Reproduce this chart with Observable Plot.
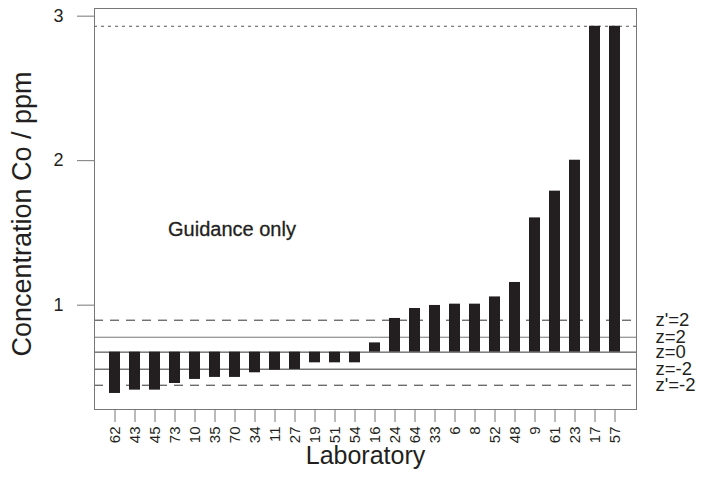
<!DOCTYPE html>
<html>
<head>
<meta charset="utf-8">
<script src="https://cdn.jsdelivr.net/npm/d3@7"></script>
<script src="https://cdn.jsdelivr.net/npm/@observablehq/plot@0.6"></script>
<style>
  html, body { margin: 0; padding: 0; background: #fff; }
</style>
</head>
<body>
<div id="chart"></div>
<script>
// Laboratory codes (x categories), in plotted order
const labs = ["62","43","45","73","10","35","70","34","11","27","19","51","54","16","24","64","33","6","8","52","48","9","61","23","17","57"];
// Reported Co concentrations (ppm)
const values = [0.389,0.412,0.412,0.458,0.486,0.500,0.500,0.532,0.550,0.555,0.601,0.601,0.601,0.739,0.908,0.977,0.998,1.007,1.007,1.057,1.157,1.604,1.789,2.003,2.93,2.93];
// Assigned value (z=0) — bars start here
const assigned = 0.675;
// Reference lines
const zNames = ["z'=2","z=2","z=0","z=-2","z'=-2"];
const zValues = [0.896, 0.778, 0.675, 0.557, 0.446];
const zKinds = ["dash","solidLight","solid","solid","dash"];
// Upper plotting limit (dotted)
const upperLimit = 2.93;
// y ticks
const yTicks = [1, 2, 3];
// annotation
const note = [{lab: "70", v: 1.52, text: "Guidance only"}];

const data = labs.map((l, i) => ({lab: l, v: values[i]}));
const zLines = zNames.map((n, i) => ({name: n, v: zValues[i], kind: zKinds[i]}));

const ink = "#231f20";
const chart = Plot.plot({
  width: 703,
  height: 482,
  marginLeft: 94,
  marginRight: 67,
  marginTop: 8,
  marginBottom: 73,
  style: {fontFamily: "'Liberation Sans', Arial, sans-serif", color: ink, background: "#fff"},
  x: {domain: labs, paddingInner: 0.44, paddingOuter: 0.63},
  y: {domain: [0.278, 3.053]},
  marks: [
    Plot.ruleY(zLines.filter(d => d.kind === "dash"), {y: "v", stroke: "#333", strokeDasharray: "9,7"}),
    Plot.ruleY(zLines.filter(d => d.kind === "solidLight"), {y: "v", stroke: "#777"}),
    Plot.ruleY(zLines.filter(d => d.kind === "solid"), {y: "v", stroke: "#333"}),
    Plot.ruleY([upperLimit], {stroke: "#555", strokeDasharray: "3,4"}),
    Plot.barY(data, {x: "lab", y1: () => assigned, y2: "v", fill: ink}),
    Plot.frame({stroke: "#777"}),
    Plot.axisY({ticks: yTicks, tickSize: 17, tickPadding: 14, fontSize: 18, label: null, stroke: "#777", fill: ink, tickFormat: d => d}),
    Plot.axisX({tickRotate: -90, tickSize: 13, tickPadding: 4, fontSize: 15, label: null, stroke: "#777", fill: ink}),
    Plot.text(note, {x: "lab", y: "v", text: "text", fontSize: 20, dx: -3, fill: ink, stroke: ink, strokeWidth: 0.3}),
    Plot.text(zLines, {y: "v", text: "name", frameAnchor: "right", textAnchor: "start", dx: 19, fontSize: 18.5, fill: ink}),
    Plot.text(["Concentration Co / ppm"], {frameAnchor: "left", textAnchor: "middle", rotate: -90, dx: -72, dy: 5, fontSize: 27, fill: ink}),
    Plot.text(["Laboratory"], {frameAnchor: "bottom", dy: 54, fontSize: 25, fill: ink})
  ]
});
document.getElementById("chart").appendChild(chart);
</script>
</body>
</html>
